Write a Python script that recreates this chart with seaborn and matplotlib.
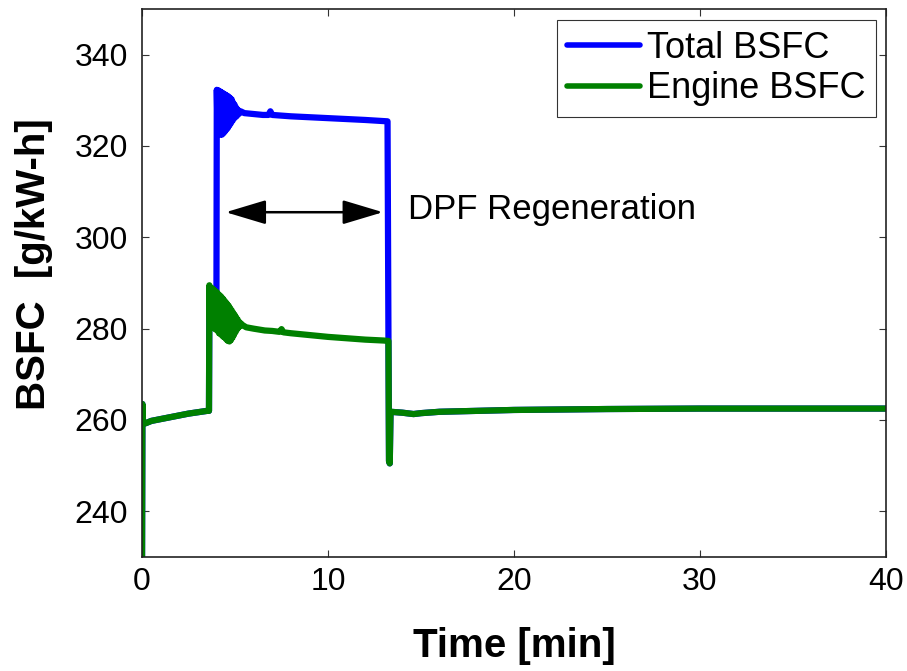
import numpy as np
import pandas as pd
import matplotlib.pyplot as plt
import seaborn as sns

# Values (time in min, BSFC in g/kW-h)
time_total = [0.0, 0.02, 0.05, 0.2, 0.5, 1.0, 1.5, 2.0, 2.5, 3.0, 3.5, 3.6, 3.62, 4.0,
              4.02, 4.06, 4.10, 4.14, 4.18, 4.22, 4.26, 4.30, 4.34, 4.38, 4.42, 4.46,
              4.50, 4.54, 4.58, 4.62, 4.66, 4.70, 4.74, 4.78, 4.82, 4.86, 4.90, 4.94,
              4.98, 5.02, 5.06, 5.10, 5.14, 5.20, 5.3, 5.5, 6.0, 6.5, 6.8, 6.9, 7.0,
              8.0, 9.0, 10.0, 11.0, 12.0, 13.2, 13.25, 13.28, 13.32, 13.36, 14.0, 14.6,
              15.0, 16.0, 18.0, 20.0, 25.0, 30.0, 35.0, 40.0]
bsfc_total = [230, 263.5, 259.5, 259.3, 259.8, 260.2, 260.6, 261.0, 261.4, 261.7, 262.0,
              262.0, 285.0, 285.0,
              332.3, 323.0, 332.2, 322.6, 332.0, 322.5, 331.8, 322.5, 331.6, 322.8, 331.4,
              323.2, 331.2, 323.6, 331.0, 324.0, 330.8, 324.5, 330.5, 325.0, 330.2, 325.5,
              329.5, 326.0, 329.0, 326.3, 328.4, 326.6, 328.0, 327.0, 327.6, 327.2, 327.0,
              326.8, 326.8, 327.6, 326.8, 326.5, 326.3, 326.1, 325.9, 325.7, 325.4, 277.3,
              251.0, 250.5, 261.8, 261.6, 261.3, 261.5, 261.8, 262.0, 262.2, 262.4, 262.5,
              262.5, 262.5]

time_engine = [0.0, 0.02, 0.05, 0.2, 0.5, 1.0, 1.5, 2.0, 2.5, 3.0, 3.5, 3.6,
               3.62, 3.66, 3.70, 3.74, 3.78, 3.82, 3.86, 3.90, 3.94, 3.98, 4.02, 4.06,
               4.10, 4.14, 4.18, 4.22, 4.26, 4.30, 4.34, 4.38, 4.42, 4.46, 4.50, 4.54,
               4.58, 4.62, 4.66, 4.70, 4.74, 4.78, 4.82, 4.86, 4.90, 4.94, 4.98, 5.02,
               5.06, 5.10, 5.14, 5.18, 5.22, 5.26, 5.30, 5.40, 5.6, 6.0, 6.6, 7.0, 7.4,
               7.5, 7.6, 8.0, 9.0, 10.0, 11.0, 12.0, 13.0, 13.25, 13.28, 13.32, 13.36,
               14.0, 14.6, 15.0, 16.0, 18.0, 20.0, 25.0, 30.0, 35.0, 40.0]
bsfc_engine = [230, 263.5, 259.5, 259.3, 259.8, 260.2, 260.6, 261.0, 261.4, 261.7, 262.0, 262.0,
               289.5, 281.5, 289.0, 281.0, 288.8, 280.5, 288.5, 280.0, 288.2, 279.8, 288.0,
               279.5, 287.6, 279.0, 287.3, 278.8, 287.0, 278.5, 286.6, 278.2, 286.2, 278.0,
               285.8, 277.6, 285.4, 277.3, 285.0, 277.2, 284.5, 277.5, 284.0, 278.0, 283.5,
               278.6, 283.0, 279.2, 282.5, 279.8, 282.0, 280.2, 281.5, 280.5, 281.2, 280.8,
               280.3, 280.0, 279.6, 279.5, 279.3, 279.9, 279.2, 279.0, 278.6, 278.2, 277.9,
               277.6, 277.4, 277.3, 251.0, 250.5, 261.8, 261.6, 261.3, 261.5, 261.8, 262.0,
               262.2, 262.4, 262.5, 262.5, 262.5]

df = pd.concat([
    pd.DataFrame({'Time': time_total, 'BSFC': bsfc_total, 'Series': 'Total BSFC'}),
    pd.DataFrame({'Time': time_engine, 'BSFC': bsfc_engine, 'Series': 'Engine BSFC'}),
], ignore_index=True)

sns.set_style("ticks")
plt.rcParams['font.family'] = ['Liberation Sans', 'DejaVu Sans']
plt.rcParams['xtick.direction'] = 'in'
plt.rcParams['ytick.direction'] = 'in'
plt.rcParams['text.color'] = 'black'
plt.rcParams['axes.labelcolor'] = 'black'
plt.rcParams['xtick.labelcolor'] = 'black'
plt.rcParams['ytick.labelcolor'] = 'black'

fig, ax = plt.subplots(figsize=(9.07, 6.71), dpi=100)
fig.subplots_adjust(left=0.1566, right=0.9768, bottom=0.1699, top=0.9866)

sns.lineplot(data=df, x='Time', y='BSFC', hue='Series',
             hue_order=['Total BSFC', 'Engine BSFC'],
             palette={'Total BSFC': '#0000ff', 'Engine BSFC': '#008000'},
             estimator=None, sort=False, linewidth=4.5, ax=ax,
             solid_capstyle='round', solid_joinstyle='round')

ax.set_xlim(0, 40)
ax.set_ylim(230, 350)
ax.set_xticks([0, 10, 20, 30, 40])
ax.set_yticks([240, 260, 280, 300, 320, 340])
ax.tick_params(axis='both', labelsize=23, length=5, width=0.8, color='#333333',
               top=True, right=True)
ax.tick_params(axis='x', pad=7)
ax.tick_params(axis='y', pad=10)
for s in ax.spines.values():
    s.set_visible(True)
    s.set_linewidth(1.2)
    s.set_color('#222222')

ax.set_xlabel('Time [min]', fontsize=29, fontweight='bold')
ax.set_ylabel('BSFC  [g/kW-h]', fontsize=29, fontweight='bold')
ax.xaxis.set_label_coords(0.5, -0.128)
ax.yaxis.set_label_coords(-0.12, 0.535)

# DPF regeneration span arrow
ax.annotate('', xy=(4.5, 305.5), xytext=(12.95, 305.5),
            arrowprops=dict(arrowstyle='<|-|>,head_length=1.0,head_width=0.3',
                            color='black', lw=1.8, mutation_scale=25,
                            shrinkA=0, shrinkB=0))
ax.text(14.3, 306, 'DPF Regeneration', fontsize=25, ha='left', va='center')

handles, labels = ax.get_legend_handles_labels()
leg = ax.legend(handles, labels, loc='upper right', bbox_to_anchor=(0.987, 0.98),
                borderaxespad=0, fontsize=26, frameon=True, fancybox=False,
                handlelength=2.0, handletextpad=0.2, borderpad=0.3,
                labelspacing=0.15)
leg.get_frame().set_edgecolor('black')
leg.get_frame().set_linewidth(0.8)
for line in leg.get_lines():
    line.set_linewidth(4)

plt.savefig('out.png', dpi=100)
